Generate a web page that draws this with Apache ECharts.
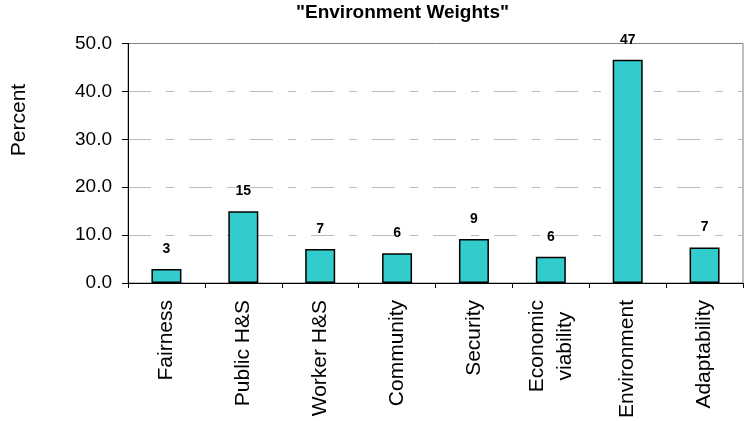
<!DOCTYPE html>
<html>
<head>
<meta charset="utf-8">
<script src="https://cdn.jsdelivr.net/npm/echarts@6/dist/echarts.min.js"></script>
<style>
  html, body { margin: 0; padding: 0; background: #ffffff; }
  #chart { width: 746px; height: 421px; }
</style>
</head>
<body>
<div id="chart"></div>
<script>
// Weight (percent) assigned to each criterion
const categories = ['Fairness', 'Public H&S', 'Worker H&S', 'Community', 'Security', 'Economic\nviability', 'Environment', 'Adaptability'];
const weights = [2.9, 15.0, 7.1, 6.2, 9.2, 5.5, 46.6, 7.4];
const yTicks = { min: 0, max: 50, interval: 10 };

const FONT = "'Liberation Sans', Arial, sans-serif";

const chart = echarts.init(document.getElementById('chart'), null, { renderer: 'canvas' });

chart.setOption({
  backgroundColor: '#ffffff',
  animation: false,
  title: {
    text: '"Environment Weights"',
    left: 296,
    top: 3,
    padding: 0,
    textStyle: { fontFamily: FONT, fontSize: 19, fontWeight: 'bold', color: '#000000' }
  },
  grid: {
    left: 128, right: 3, top: 43.5, bottom: 138,
    show: true, borderColor: '#808080', borderWidth: 1, backgroundColor: 'transparent'
  },
  graphic: [{
    type: 'text',
    x: 19, y: 120,
    rotation: Math.PI / 2,
    style: {
      text: 'Percent',
      fontFamily: FONT, fontSize: 21, fill: '#000000',
      align: 'center', verticalAlign: 'middle'
    }
  }],
  xAxis: {
    type: 'category',
    data: categories,
    boundaryGap: true,
    axisLine: { show: true, lineStyle: { color: '#000000', width: 1 } },
    axisTick: { show: true, length: 5, alignWithLabel: false, lineStyle: { color: '#000000' } },
    axisLabel: {
      interval: 0,
      rotate: 90,
      margin: 17,
      color: '#000000',
      fontFamily: FONT,
      fontSize: 21,
      lineHeight: 28,
      formatter: v => v.split('\n').map(s => '{c|' + s + '}').join('\n'),
      rich: { c: { align: 'center', fontFamily: FONT, fontSize: 21, lineHeight: 28, color: '#000000' } }
    },
    splitLine: { show: false }
  },
  yAxis: {
    type: 'value',
    min: yTicks.min, max: yTicks.max, interval: yTicks.interval,
    axisLine: { show: true, lineStyle: { color: '#000000', width: 1 } },
    axisTick: { show: true, length: 6, lineStyle: { color: '#000000' } },
    axisLabel: {
      margin: 16,
      color: '#000000',
      fontFamily: FONT,
      fontSize: 19,
      formatter: v => v.toFixed(1)
    },
    splitLine: {
      show: true,
      showMinLine: false,
      showMaxLine: false,
      lineStyle: { color: '#bbbbbb', width: 1, type: [23, 15, 8, 15] }
    }
  },
  series: [{
    type: 'bar',
    data: weights,
    barWidth: 30,
    itemStyle: { color: '#33cccc', borderColor: '#000000', borderWidth: 1.5 },
    label: {
      show: true,
      position: 'top',
      distance: 13,
      color: '#000000',
      fontFamily: FONT,
      fontSize: 14,
      fontWeight: 'bold',
      formatter: p => String(Math.round(p.value))
    }
  }]
});
</script>
</body>
</html>
